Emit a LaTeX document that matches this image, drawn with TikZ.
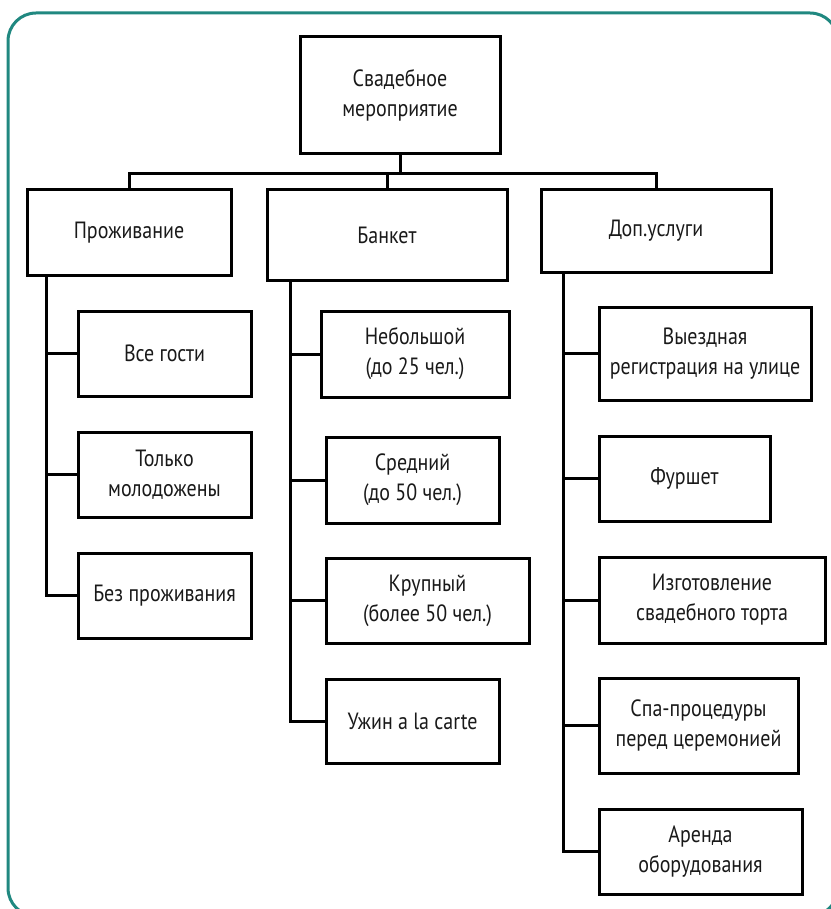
\documentclass[tikz,border=0pt]{standalone}
\usepackage{fontspec}
\setmainfont{PT Sans}[FakeStretch=0.85]
\usetikzlibrary{positioning}
\definecolor{frameteal}{RGB}{32,136,128}

\begin{document}
\begin{tikzpicture}[
    x=1pt, y=-1pt,
    box/.style={draw, line width=3pt, align=center, inner sep=2pt, text=black!90, font=\fontsize{23.5}{30}\selectfont},
    link/.style={line width=3pt},
    frame/.style={draw=frameteal, line width=3pt, rounded corners=28pt}
]
\useasboundingbox (0,0) rectangle (830,909);
\draw[frame] (8,13) rectangle (838,916);

% top level
\node[box, minimum width=200pt, minimum height=117pt] (root) at (400,95.5) {Свадебное\\мероприятие};
\node[box, minimum width=204pt, minimum height=85pt] (proz) at (129,232.5) {Проживание};
\node[box, minimum width=240pt, minimum height=90pt] (bank) at (387,235) {Банкет};
\node[box, minimum width=230pt, minimum height=82pt] (dop) at (656,231) {Доп.услуги};

% accommodation
\node[box, minimum width=173pt, minimum height=85pt] (vse) at (164.5,353.5) {Все гости};
\node[box, minimum width=173pt, minimum height=85pt] (tolko) at (164.5,474.5) {Только\\молодожены};
\node[box, minimum width=173pt, minimum height=85pt] (bez) at (164.5,595.5) {Без проживания};

% banquet
\node[box, minimum width=188pt, minimum height=86pt] (nebol) at (415,354) {Небольшой\\(до 25 чел.)};
\node[box, minimum width=173pt, minimum height=86pt] (sred) at (412.5,480) {Средний\\(до 50 чел.)};
\node[box, minimum width=203pt, minimum height=85pt] (krup) at (427.5,600.5) {Крупный\\(более 50 чел.)};
\node[box, minimum width=173pt, minimum height=84pt] (uzhin) at (412.5,721) {Ужин а la carte};

% extra services
\node[box, minimum width=212pt, minimum height=93pt] (vyezd) at (705,353.5) {Выездная\\регистрация на улице};
\node[box, minimum width=171pt, minimum height=85pt] (furshet) at (684.5,478.5) {Фуршет};
\node[box, minimum width=226pt, minimum height=86pt] (izgot) at (712,600) {Изготовление\\свадебного торта};
\node[box, minimum width=199pt, minimum height=95pt] (spa) at (698.5,725.5) {Спа-процедуры\\перед церемонией};
\node[box, minimum width=203pt, minimum height=85pt] (arenda) at (700.5,851.5) {Аренда\\оборудования};

\foreach \c in {proz,bank,dop}
    \draw[link] (root.south) -- ++(0,18) -| (\c.north);
\foreach \c in {vse,tolko,bez}
    \draw[link] ([xshift=21pt]proz.south west) |- (\c.west);
\foreach \c in {nebol,sred,krup,uzhin}
    \draw[link] ([xshift=25pt]bank.south west) |- (\c.west);
\foreach \c in {vyezd,furshet,izgot,spa,arenda}
    \draw[link] ([xshift=24pt]dop.south west) |- (\c.west);
\end{tikzpicture}
\end{document}
